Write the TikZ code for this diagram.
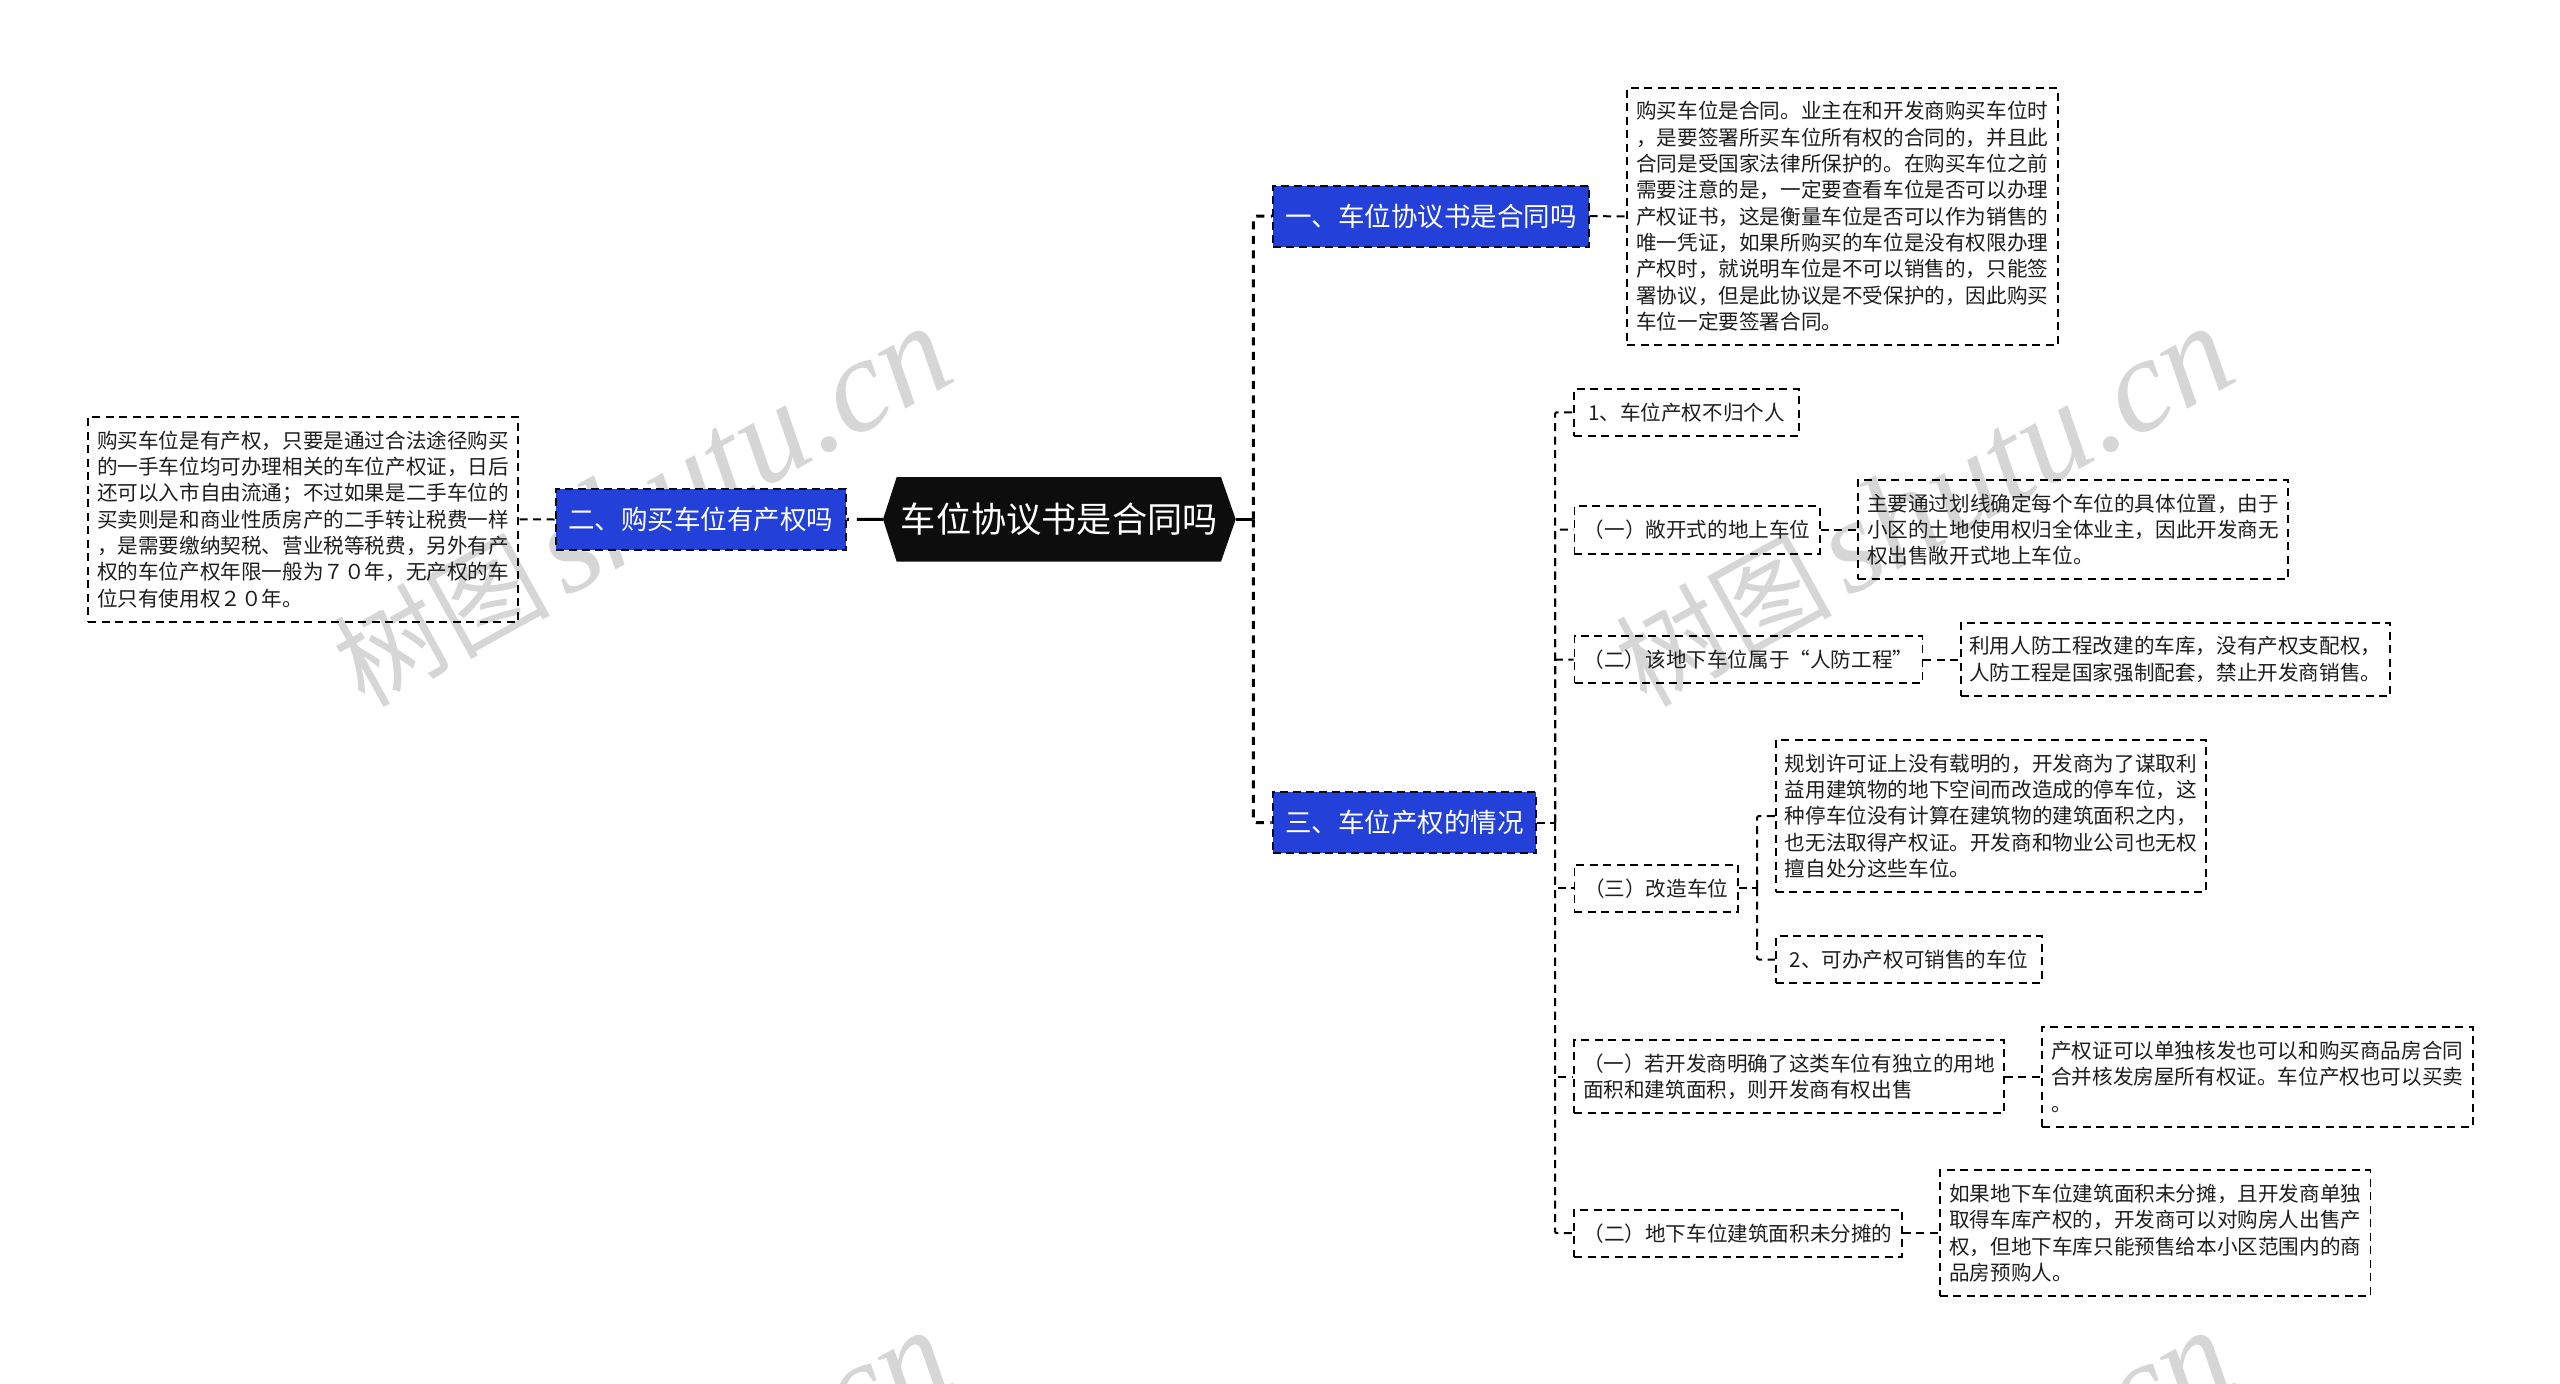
\documentclass[tikz,border=0pt]{standalone}
\usepackage{fontspec}
\setmainfont{Noto Sans CJK SC}
\newfontfamily\wmlatin{Liberation Serif}
\usetikzlibrary{calc}
\definecolor{bluebox}{HTML}{2340D8}
\definecolor{wmgray}{HTML}{D6D6D6}
\definecolor{inkc}{HTML}{1E1E1E}
\tikzset{
  leaf/.style={draw=black,line width=1.9pt,dash pattern=on 8pt off 5.5pt,inner sep=0pt,align=left,text=inkc,
    font=\fontsize{20.6pt}{26.3pt}\selectfont},
  branch/.style={draw=black!85!bluebox,fill=bluebox,line width=2pt,dash pattern=on 8pt off 5pt,inner sep=0pt,text=white,
    font=\fontsize{26.5pt}{32pt}\selectfont},
  rootnode/.style={inner sep=0pt,text=white,font=\fontsize{35.2pt}{40pt}\selectfont},
  conn/.style={draw=black,line width=2pt,dash pattern=on 8pt off 5.5pt,rounded corners=2pt},
  trunk/.style={draw=black,line width=3pt,dash pattern=on 8pt off 6.5pt,rounded corners=3pt},
  wm/.style={text=wmgray,inner sep=0pt,rotate=29,font=\fontsize{108pt}{130pt}\selectfont},
}
\newcommand{\wmtext}{树图\hspace{14pt}{\wmlatin\itshape\fontsize{134pt}{140pt}\selectfont shutu.cn}}
\begin{document}
\begin{tikzpicture}[x=1pt,y=-1pt]
\useasboundingbox (0,0) rectangle (2560,1384);
\begin{scope}
\clip (0,0) rectangle (2560,1384);
\node[wm] (w1) at (642,507) {\wmtext};
\node[wm] (w2) at (1924,507) {\wmtext};
\node[wm] (w3) at (642,1511) {\wmtext};
\node[wm] (w4) at (1924,1511) {\wmtext};
\end{scope}
% root
\fill[fill=black!95] (883,519.3) -- (896.7,477) -- (1221,477) -- (1235.7,519.3) -- (1221,561.7) -- (896.7,561.7) -- cycle;
\node[rootnode,minimum width=352.7pt,minimum height=84.7pt] (c) at (1059.3,519.3) {车位协议书是合同吗};
% branches
\node[branch,minimum width=290pt,minimum height=61pt] (b2) at (700.6,519.5) {二、购买车位有产权吗};
\node[branch,minimum width=315.6pt,minimum height=61pt] (b1) at (1430.8,216.2) {一、车位协议书是合同吗};
\node[branch,minimum width=263.3pt,minimum height=61pt] (b3) at (1404.3,822.7) {三、车位产权的情况};
% left text
\node[leaf,minimum width=430pt,minimum height=205pt] (t2) at (303,519.3) {购买车位是有产权，只要是通过合法途径购买\\的一手车位均可办理相关的车位产权证，日后\\还可以入市自由流通；不过如果是二手车位的\\买卖则是和商业性质房产的二手转让税费一样\\，是需要缴纳契税、营业税等税费，另外有产\\权的车位产权年限一般为７０年，无产权的车\\位只有使用权２０年。};
% top right text
\node[leaf,minimum width=430.6pt,minimum height=257.3pt] (t1) at (1842.3,216.3) {购买车位是合同。业主在和开发商购买车位时\\，是要签署所买车位所有权的合同的，并且此\\合同是受国家法律所保护的。在购买车位之前\\需要注意的是，一定要查看车位是否可以办理\\产权证书，这是衡量车位是否可以作为销售的\\唯一凭证，如果所购买的车位是没有权限办理\\产权时，就说明车位是不可以销售的，只能签\\署协议，但是此协议是不受保护的，因此购买\\车位一定要签署合同。};
% children of b3
\node[leaf,minimum width=225pt,minimum height=46.7pt] (l0) at (1686.5,412.3) {1、车位产权不归个人};
\node[leaf,minimum width=245.5pt,minimum height=47.9pt] (l1) at (1697.2,529.6) {（一）敞开式的地上车位};
\node[leaf,minimum width=430pt,minimum height=99.4pt] (m1) at (2073,529.6) {主要通过划线确定每个车位的具体位置，由于\\小区的土地使用权归全体业主，因此开发商无\\权出售敞开式地上车位。};
\node[leaf,minimum width=348pt,minimum height=47.3pt] (l2) at (1748.5,659.5) {（二）该地下车位属于“人防工程”};
\node[leaf,minimum width=429.3pt,minimum height=73.4pt] (m2) at (2175.3,659.5) {利用人防工程改建的车库，没有产权支配权，\\人防工程是国家强制配套，禁止开发商销售。};
\node[leaf,minimum width=163.5pt,minimum height=47.2pt] (l3) at (1656.2,888.2) {（三）改造车位};
\node[leaf,minimum width=430.2pt,minimum height=152pt] (r1) at (1990.9,816) {规划许可证上没有载明的，开发商为了谋取利\\益用建筑物的地下空间而改造成的停车位，这\\种停车位没有计算在建筑物的建筑面积之内，\\也无法取得产权证。开发商和物业公司也无权\\擅自处分这些车位。};
\node[leaf,minimum width=265.9pt,minimum height=47pt] (r2) at (1908.7,959.5) {2、可办产权可销售的车位};
\node[leaf,minimum width=430pt,minimum height=73pt] (l4) at (1789,1076.7) {（一）若开发商明确了这类车位有独立的用地\\面积和建筑面积，则开发商有权出售};
\node[leaf,minimum width=430.6pt,minimum height=100pt] (m4) at (2257.3,1076.7) {产权证可以单独核发也可以和购买商品房合同\\合并核发房屋所有权证。车位产权也可以买卖\\。};
\node[leaf,minimum width=328pt,minimum height=46.7pt] (l5) at (1738,1233.2) {（二）地下车位建筑面积未分摊的};
\node[leaf,minimum width=430.5pt,minimum height=126pt] (m5) at (2155.2,1233.2) {如果地下车位建筑面积未分摊，且开发商单独\\取得车库产权的，开发商可以对购房人出售产\\权，但地下车库只能预售给本小区范围内的商\\品房预购人。};
% junction coordinates
\coordinate (j1) at ($(c.east)+(17.6,0)$);
\coordinate (j2) at (1555,822.7);
\coordinate (j3) at (1757,888.2);
% root connectors
\draw[draw=black,line width=3pt,dash pattern=on 26pt off 8pt] (c.west) -- (b2.east);
\draw[draw=black,line width=3pt] (c.east) -- (j1);
\draw[trunk] (j1) |- (b1.west);
\draw[trunk] (j1) |- (b3.west);
\draw[conn] (b2.west) -- (t2.east);
\draw[conn] (b1.east) -- (t1.west);
\draw[conn] (b3.east) -- (j2);
\draw[conn] (j2) |- (l0.west);
\draw[conn] (j2) |- (l1.west);
\draw[conn] (j2) |- (l2.west);
\draw[conn] (j2) |- (l3.west);
\draw[conn] (j2) |- (l4.west);
\draw[conn] (j2) |- (l5.west);
\draw[conn] (l1.east) -- (m1.west);
\draw[conn] (l2.east) -- (m2.west);
\draw[conn] (l3.east) -- (j3);
\draw[conn] (j3) |- (r1.west);
\draw[conn] (j3) |- (r2.west);
\draw[conn] (l4.east) -- (m4.west);
\draw[conn] (l5.east) -- (m5.west);
\end{tikzpicture}
\end{document}
